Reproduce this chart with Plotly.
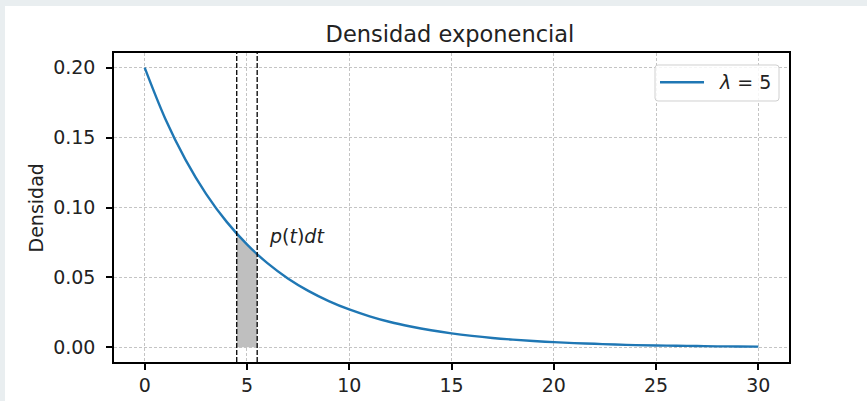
import plotly.graph_objects as go

# Exponential density curve, mean 5 (sampled at integer t)
t_vals = list(range(0, 31))
p_vals = [0.2000, 0.1637, 0.1341, 0.1098, 0.0899, 0.0736, 0.0602, 0.0493,
          0.0404, 0.0331, 0.0271, 0.0222, 0.0181, 0.0149, 0.0122, 0.0100,
          0.0082, 0.0067, 0.0055, 0.0045, 0.0037, 0.0030, 0.0025, 0.0020,
          0.0016, 0.0013, 0.0011, 0.0009, 0.0007, 0.0006, 0.0005]

# Shaded slice p(t)dt between t=4.5 and t=5.5
shade_t = [4.5, 5.0, 5.5]
shade_p = [0.0813, 0.0736, 0.0666]
slice_edges = [4.5, 5.5]

x_ticks = [0, 5, 10, 15, 20, 25, 30]
y_ticks = [0.00, 0.05, 0.10, 0.15, 0.20]

legend_label = "<i>λ</i> = 5"

BLUE = "#1f77b4"
FONT = "DejaVu Sans"
TXT = "#222222"

fig = go.Figure()

fig.add_trace(go.Scatter(
    x=shade_t, y=shade_p, mode="lines", fill="tozeroy",
    fillcolor="#bfbfbf", line=dict(width=0, color="#bfbfbf"),
    showlegend=False, hoverinfo="skip"))

fig.add_trace(go.Scatter(
    x=t_vals, y=p_vals, mode="lines", line=dict(color=BLUE, width=2.4, shape="spline"),
    name=legend_label, showlegend=False))

for xe in slice_edges:
    fig.add_shape(type="line", xref="x", yref="paper", x0=xe, x1=xe, y0=0, y1=1,
                  line=dict(color="black", width=1.3, dash="5px,2px"))

# white figure canvas over the light page background
fig.add_shape(type="rect", xref="paper", yref="paper", layer="below",
              x0=-0.1615, x1=1.3, y0=-0.3, y1=1.152,
              fillcolor="white", line=dict(width=0))


def rounded_box(x0, y0, x1, y1, rx, ry):
    return (f"M {x0+rx},{y0} L {x1-rx},{y0} Q {x1},{y0} {x1},{y0+ry} "
            f"L {x1},{y1-ry} Q {x1},{y1} {x1-rx},{y1} "
            f"L {x0+rx},{y1} Q {x0},{y1} {x0},{y1-ry} "
            f"L {x0},{y0+ry} Q {x0},{y0} {x0+rx},{y0} Z")


# legend frame, line sample and label (upper right)
fig.add_shape(type="path", xref="paper", yref="paper",
              path=rounded_box(0.8015, 0.8447, 0.9852, 0.9612, 0.0045, 0.0097),
              fillcolor="rgba(255,255,255,0.85)", line=dict(color="#d0d0d0", width=1))
fig.add_shape(type="line", xref="paper", yref="paper",
              x0=0.8089, x1=0.8741, y0=0.9055, y1=0.9055,
              line=dict(color=BLUE, width=2.4))
fig.add_annotation(x=0.8940, y=0.9055, xref="paper", yref="paper", text=legend_label,
                   showarrow=False, xanchor="left", yanchor="middle",
                   font=dict(family=FONT, size=19, color=TXT))

fig.add_annotation(x=6, y=0.07, xref="x", yref="y", text="<i>p</i>(<i>t</i>)<i>dt</i>",
                   showarrow=False, xanchor="left", yanchor="bottom",
                   font=dict(family=FONT, size=19, color=TXT))

fig.add_annotation(x=-0.1156, y=0.5, xref="paper", yref="paper", text="Densidad",
                   showarrow=False, textangle=-90, xanchor="center", yanchor="middle",
                   font=dict(family=FONT, size=19, color=TXT))

axis_common = dict(
    showgrid=True, gridcolor="#c4c4c4", griddash="3px,2px", gridwidth=1,
    showline=True, linecolor="black", linewidth=1.5, mirror=True,
    ticks="outside", ticklen=6, tickwidth=1.5, tickcolor="black",
    automargin=False,
    zeroline=False, tickfont=dict(family=FONT, size=19, color=TXT),
)

fig.update_xaxes(range=[-1.5, 31.5], tickvals=x_ticks, ticklabelstandoff=-1,
                 ticktext=[str(v) for v in x_ticks], **axis_common)
fig.update_yaxes(range=[-0.0105, 0.2105], tickvals=y_ticks, ticklabelstandoff=7,
                 ticktext=[f"{v:.2f}" for v in y_ticks], **axis_common)

fig.update_layout(
    width=867, height=401,
    margin=dict(l=114, r=78, t=53, b=39, autoexpand=False),
    paper_bgcolor="#e9eef0", plot_bgcolor="white",
    title=dict(text="Densidad exponencial", x=0.519, xanchor="center",
               y=0.915, yanchor="middle",
               font=dict(family=FONT, size=22.5, color=TXT)),
    showlegend=False,
)

fig.write_html("out.html")
